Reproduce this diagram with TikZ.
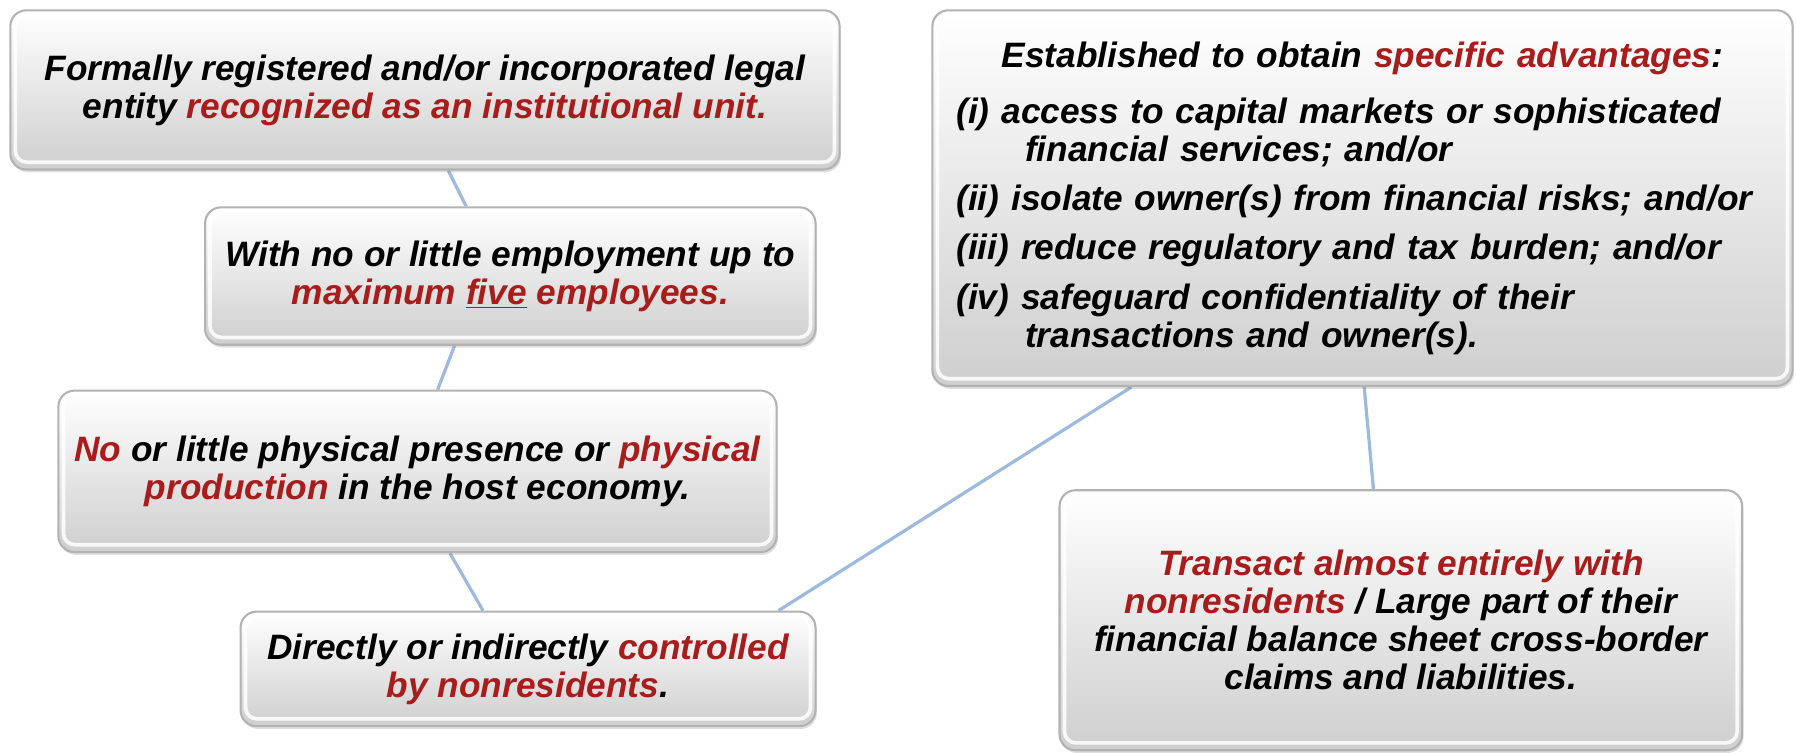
\documentclass[tikz,border=0pt]{standalone}
\usepackage{fontspec}
\setmainfont{Liberation Sans}
\usetikzlibrary{shadows,backgrounds,calc}
\definecolor{dred}{RGB}{168,28,28}
\definecolor{lnblue}{RGB}{157,185,220}
\newcommand{\rd}[1]{\textcolor{dred}{#1}}
\begin{document}
\begin{tikzpicture}[x=0.5pt,y=-0.5pt,
  box/.style={rounded corners=7pt, draw=black!30, line width=0.9pt,
    top color=white, bottom color=black!19, align=center,
    font=\fontsize{15.4pt}{16.6pt}\selectfont\bfseries\itshape, inner sep=0pt,
    drop shadow={opacity=0.25, shadow xshift=0.6pt, shadow yshift=-1.2pt},
    path picture={\draw[white, line width=1.6pt, opacity=0.85, rounded corners=5pt]
      ([xshift=2.2pt,yshift=-2.2pt]path picture bounding box.north west) rectangle
      ([xshift=-2.2pt,yshift=3.2pt]path picture bounding box.south east);}},
  link/.style={draw=lnblue, line width=1.4pt}]
\useasboundingbox (0,0) rectangle (1568,657);

\node[box, minimum width=362pt, minimum height=69.5pt] (b1) at (371,78.5)
  {Formally registered and/or incorporated legal\\ entity \rd{recognized as an institutional unit.}};
\node[box, minimum width=266.5pt, minimum height=60pt] (b2) at (445.5,241)
  {With no or little employment up to\\ \rd{maximum \underline{five} employees.}};
\node[box, minimum width=313.5pt, minimum height=70.5pt] (b3) at (364.5,411.5)
  {\rd{No} or little physical presence or \rd{physical}\\ \rd{production} in the host economy.};
\node[box, minimum width=251pt, minimum height=50pt] (b4) at (461,584)
  {Directly or indirectly \rd{controlled}\\ \rd{by nonresidents}.};
\node[box, minimum width=375.5pt, minimum height=164pt, text width=354.5pt, align=left] (b5) at (1189.5,173)
  {\parindent=0pt
   {\centering Established to obtain \rd{specific advantages}:\par}
   \vspace{8pt}
   (i) access to capital markets or sophisticated\\\hspace*{30pt}financial services; and/or\par
   \vspace{4.5pt}
   (ii) isolate owner(s) from financial risks; and/or\par
   \vspace{5pt}
   (iii) reduce regulatory and tax burden; and/or\par
   \vspace{5pt}
   (iv) safeguard confidentiality of their\\\hspace*{30pt}transactions and owner(s).\par};
\node[box, minimum width=298pt, minimum height=113.5pt] (b6) at (1223,541.5)
  {\rd{Transact almost entirely with}\\ \rd{nonresidents} / Large part of their\\ financial balance sheet cross-border\\ claims and liabilities.};

\begin{scope}[on background layer]
\draw[link] ($(b1.south west)!0.528!(b1.south east)$) -- ($(b2.north west)!0.428!(b2.north east)$);
\draw[link] ($(b2.south west)!0.409!(b2.south east)$) -- ($(b3.north west)!0.528!(b3.north east)$);
\draw[link] ($(b3.south west)!0.545!(b3.south east)$) -- ($(b4.north west)!0.422!(b4.north east)$);
\draw[link] ($(b4.north west)!0.934!(b4.north east)$) -- ($(b5.south west)!0.232!(b5.south east)$);
\draw[link] ($(b5.south west)!0.502!(b5.south east)$) -- ($(b6.north west)!0.46!(b6.north east)$);
\end{scope}
\end{tikzpicture}
\end{document}
